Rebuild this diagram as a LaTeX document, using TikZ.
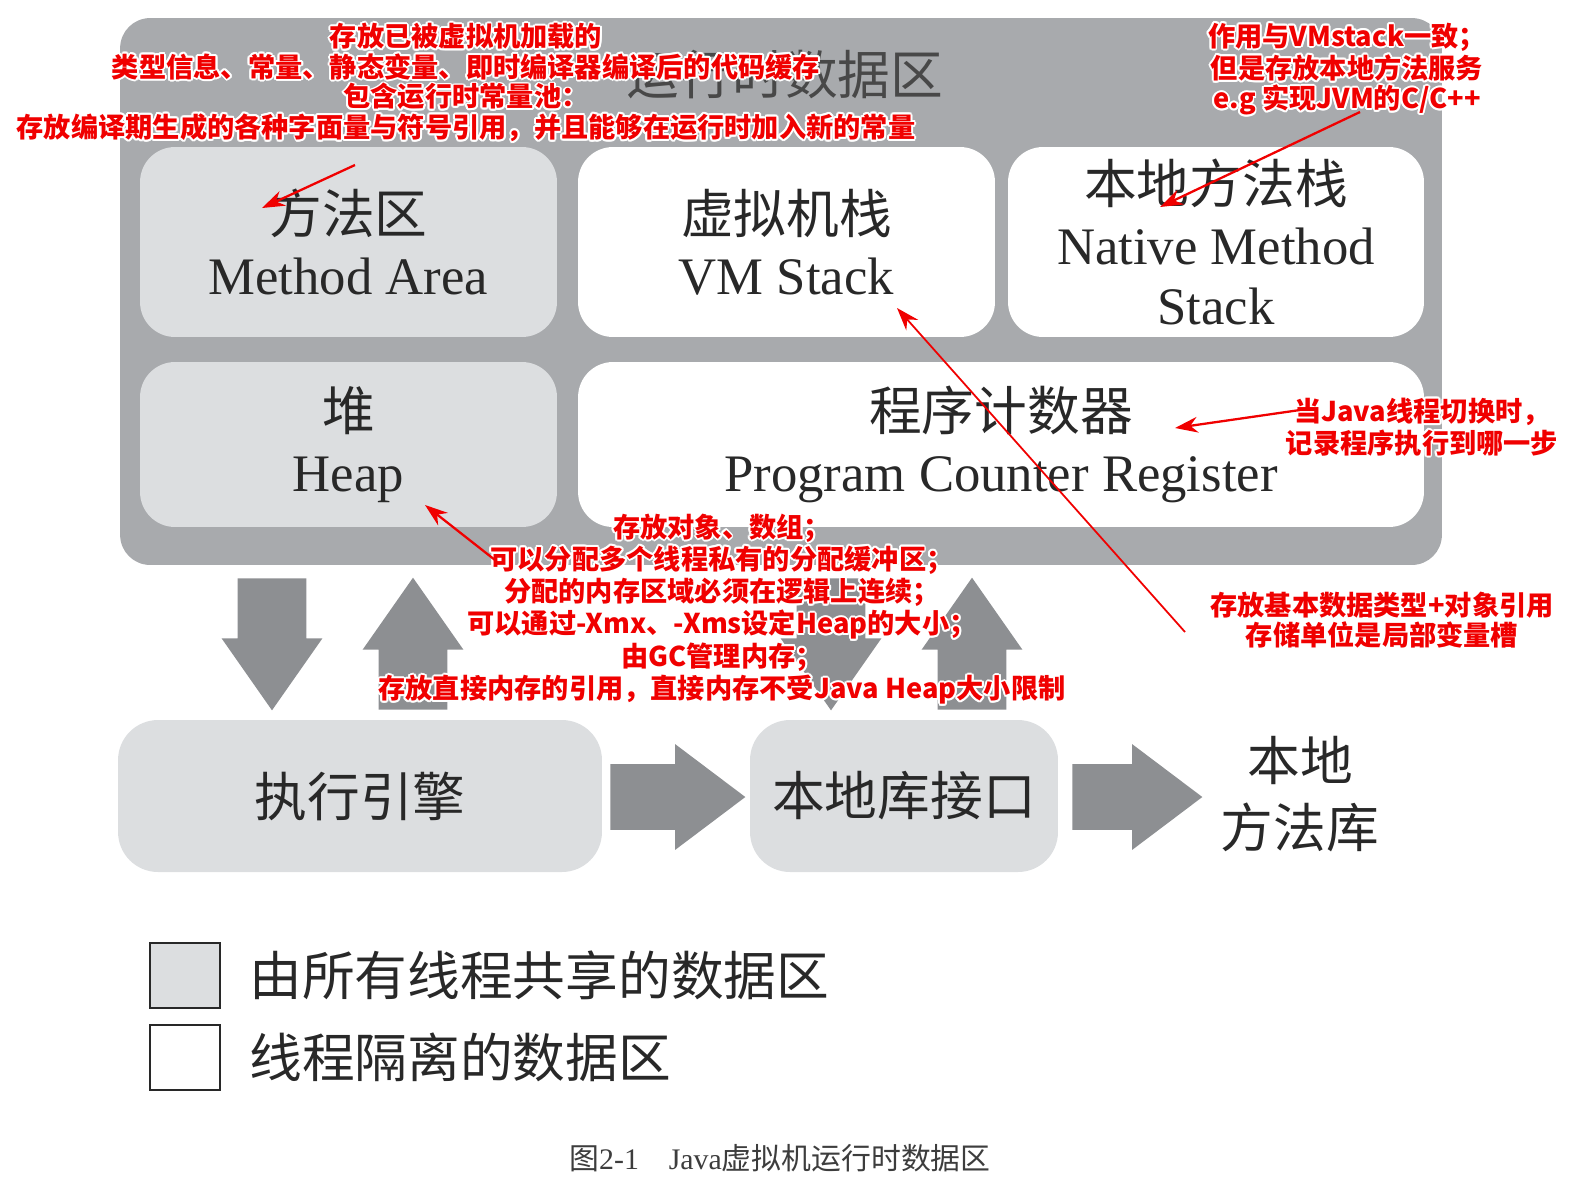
\documentclass[tikz,border=0pt]{standalone}
\usepackage{fontspec}
\setmainfont{Liberation Serif}
\newfontfamily\cjk{Noto Sans CJK SC}
\newfontfamily\notefont{Noto Sans CJK SC}
\usepackage[copies]{contour}
\contourlength{1.1pt}
\contournumber{12}
\usetikzlibrary{positioning, arrows.meta, shapes.arrows}
\definecolor{runtimegray}{RGB}{168,170,173}
\definecolor{sharedgray}{RGB}{220,222,224}
\definecolor{arrowgray}{RGB}{141,143,146}
\definecolor{inkgray}{RGB}{40,40,40}
\definecolor{notered}{RGB}{240,0,0}
\newcommand{\ct}[1]{\contour{white}{#1}}

\begin{document}
\begin{tikzpicture}[
  x=0.02cm, y=-0.02cm,
  areabox/.style={rounded corners=0.7cm, text=inkgray, align=center,
    inner sep=0pt, font=\fontsize{30}{34.5}\selectfont},
  sharedbox/.style={areabox, fill=sharedgray},
  privatebox/.style={areabox, fill=white},
  blockarrow/.style={single arrow, fill=arrowgray, inner xsep=0pt,
    inner ysep=0.68cm, minimum height=2.64cm,
    single arrow head extend=0.32cm, single arrow tip angle=70},
  flatarrow/.style={inner ysep=0.65cm, single arrow head extend=0.4cm,
    single arrow tip angle=74},
  keybox/.style={draw=inkgray, line width=1.2pt, minimum width=1.4cm,
    minimum height=1.3cm},
  keytext/.style={text=inkgray, inner sep=0pt,
    font=\cjk\fontsize{30}{34}\selectfont},
  note/.style={text=notered, align=center, inner sep=0pt,
    font=\notefont\bfseries\fontsize{15.5}{15.7}\selectfont},
  notearrow/.style={notered, line width=1.3pt,
    -{Stealth[length=13pt, width=9pt]}},
  node distance=0.56cm,
]
  \useasboundingbox (0,0) rectangle (1574,1191);

  \node[fill=runtimegray, rounded corners=0.6cm, minimum width=26.44cm,
    minimum height=10.94cm] (runtime) at (781,291.5) {};
  \node[text=inkgray!85, font=\cjk\fontsize{30}{34}\selectfont] (title) at (785,75) {运行时数据区};

  \node[sharedbox, minimum width=8.34cm, minimum height=3.8cm] (method) at (348.5,242) {{\cjk 方法区}\\Method Area};
  \node[privatebox, minimum width=8.34cm, minimum height=3.8cm] (vmstack) at (786.5,242) {{\cjk 虚拟机栈}\\VM Stack};
  \node[privatebox, minimum width=8.32cm, minimum height=3.8cm] (nativestack) at (1216,242) {{\cjk 本地方法栈}\\Native Method\\Stack};
  \node[sharedbox, minimum width=8.34cm, minimum height=3.3cm] (heap) at (348.5,444.5) {{\cjk 堆}\\Heap};
  \node[privatebox, minimum width=16.92cm, minimum height=3.3cm] (pc) at (1001,444.5) {{\cjk 程序计数器}\\Program Counter Register};

  \node[blockarrow, rotate=-90, anchor=tail] (down1) at (272,578) {};
  \node[blockarrow, rotate=90, anchor=tail] (up1) at (413,710) {};
  \node[blockarrow, rotate=-90, anchor=tail] (down2) at (831,578) {};
  \node[blockarrow, rotate=90, anchor=tail] (up2) at (972,710) {};

  \node[sharedbox, rounded corners=0.8cm, minimum width=9.68cm, minimum height=3.04cm] (engine) at (360,796) {\cjk 执行引擎};
  \node[sharedbox, rounded corners=0.8cm, minimum width=6.16cm, minimum height=3.04cm] (nativeif) at (904,796) {\cjk 本地库接口};
  \node[text=inkgray, align=center, font=\cjk\fontsize{30}{38.5}\selectfont] (nativelib) at (1300,794) {本地\\方法库};

  \node[blockarrow, flatarrow, minimum height=2.7cm, anchor=tail] (right1) at (610,797) {};
  \node[blockarrow, flatarrow, minimum height=2.6cm, anchor=tail] (right2) at (1072,797) {};

  \node[keybox, fill=sharedgray] (keyshared) at (185,975.5) {};
  \node[keytext, right=of keyshared] (keysharedtext) {由所有线程共享的数据区};
  \node[keybox, fill=white] (keyprivate) at (185,1057.5) {};
  \node[keytext, right=of keyprivate] (keyprivatetext) {线程隔离的数据区};

  \node[text=inkgray!90, font=\fontsize{17}{20}\selectfont] (caption) at (780,1158) {{\cjk 图}2-1\hspace{1em}Java{\cjk 虚拟机运行时数据区}};

  \node[note] (notemethod) at (466,83.5) {\ct{存放已被虚拟机加载的}\\\ct{类型信息、常量、静态变量、即时编译器编译后的代码缓存}\\\ct{包含运行时常量池：}\\\ct{存放编译期生成的各种字面量与符号引用，并且能够在运行时加入新的常量}};
  \node[note] (notenative) at (1347,70) {\ct{作用与VMstack一致；}\\\ct{但是存放本地方法服务}\\\ct{e.g 实现JVM的C/C++}};
  \node[note] (notepc) at (1422,428) {\ct{当Java线程切换时，}\\\ct{记录程序执行到哪一步}};
  \node[note] (notestack) at (1382,621) {\ct{存放基本数据类型+对象引用}\\\ct{存储单位是局部变量槽}};
  \node[note] (noteheap) at (722,610) {\ct{存放对象、数组；}\\\ct{可以分配多个线程私有的分配缓冲区；}\\\ct{分配的内存区域必须在逻辑上连续；}\\\ct{可以通过-Xmx、-Xms设定Heap的大小；}\\\ct{由GC管理内存；}\\\ct{存放直接内存的引用，直接内存不受Java Heap大小限制}};

  \coordinate (methodtail) at (355,165);
  \coordinate (methodtip) at (262,208);
  \coordinate (nativetail) at (1360,112);
  \coordinate (nativetip) at (1160,207);
  \coordinate (pctail) at (1300,410);
  \coordinate (pctip) at (1175,428);
  \coordinate (stacktail) at (1185,632);
  \coordinate (stacktip) at (897,308);
  \coordinate (heaptail) at (495,560);
  \coordinate (heaptip) at (425,505);
  \draw[notearrow] (methodtail) -- (methodtip);
  \draw[notearrow] (nativetail) -- (nativetip);
  \draw[notearrow] (pctail) -- (pctip);
  \draw[notearrow, line width=1pt] (stacktail) -- (stacktip);
  \draw[notearrow] (heaptail) -- (heaptip);
\end{tikzpicture}
\end{document}
